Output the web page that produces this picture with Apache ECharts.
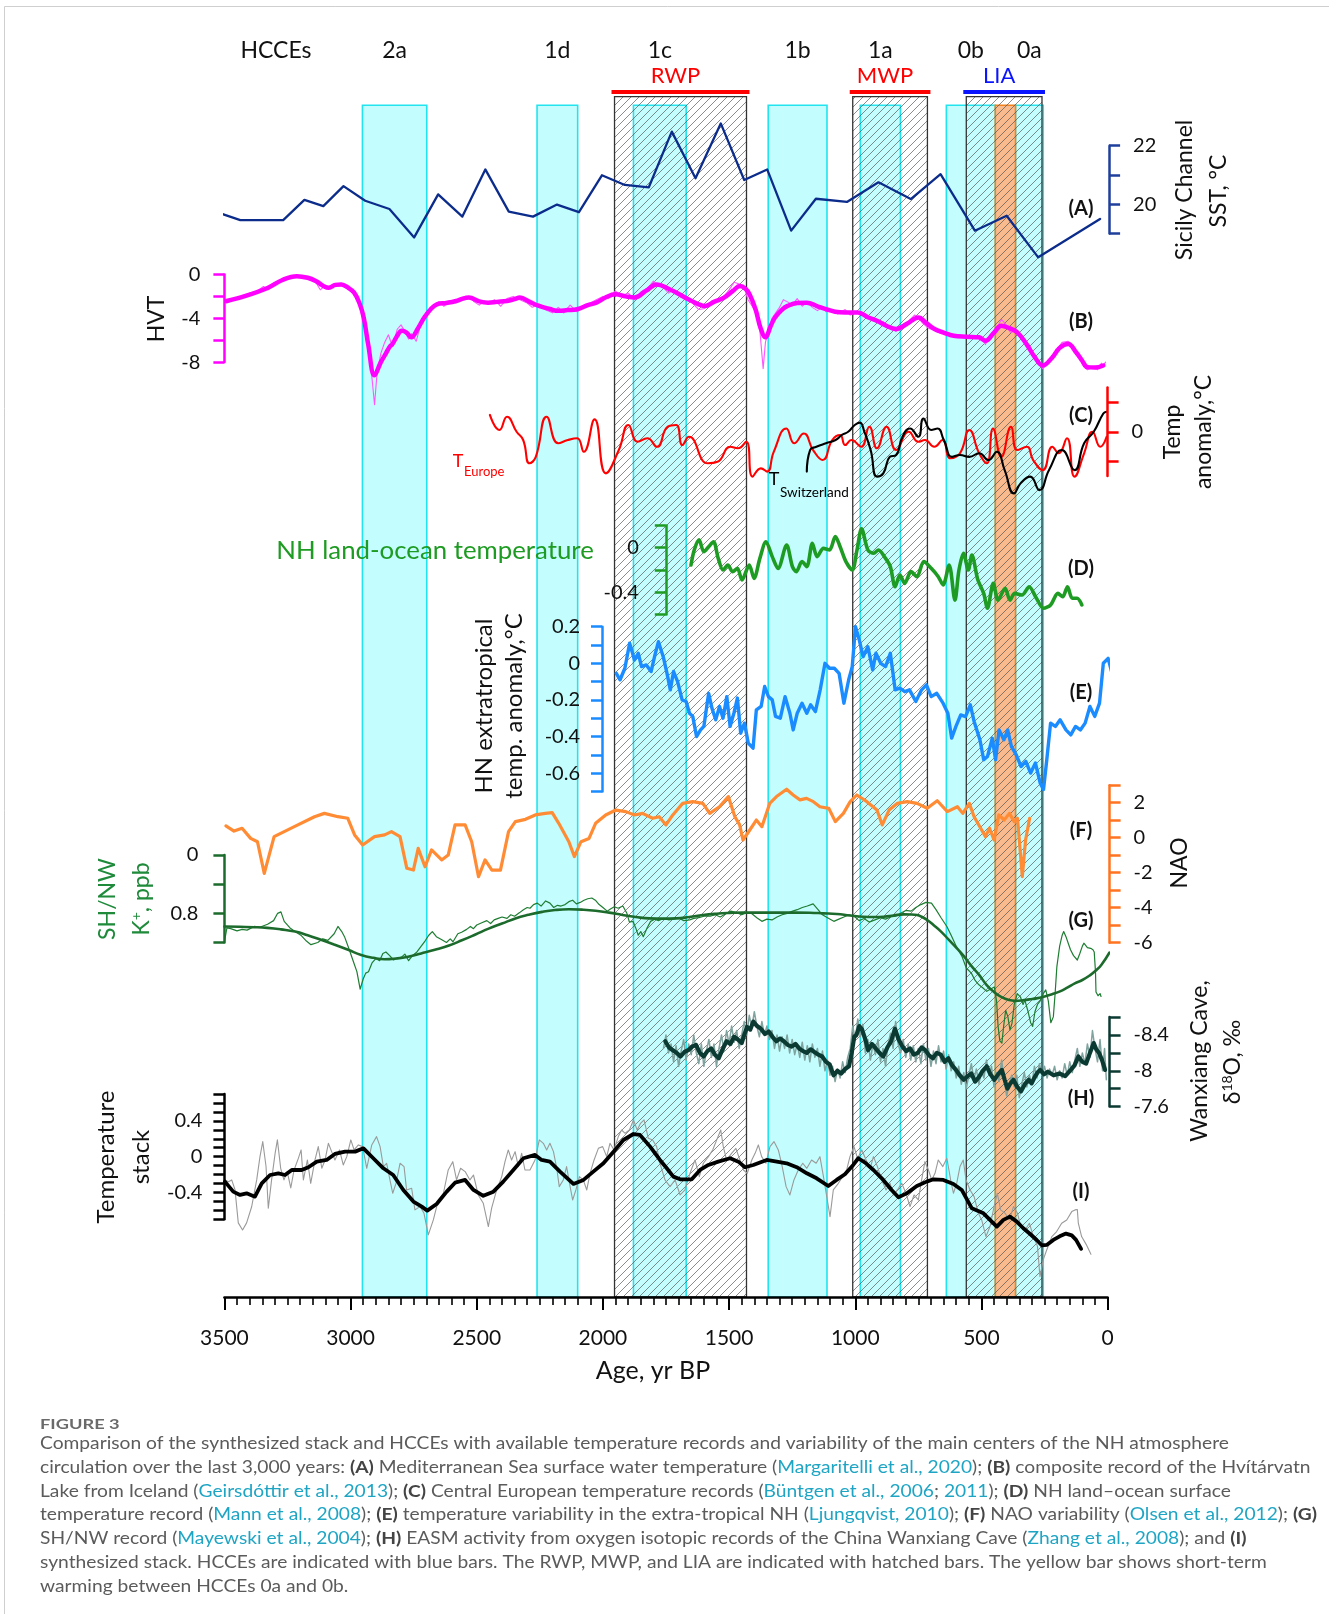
<!DOCTYPE html>
<html>
<head>
<meta charset="utf-8">
<script src="https://cdn.jsdelivr.net/npm/echarts@6/dist/echarts.min.js"></script>
<style>
html,body{margin:0;padding:0;background:#fff;}
#chart{width:1329px;height:1614px;}
</style>
</head>
<body>
<div id="chart"></div>
<script>
// ---------- shared time axis ----------
const ageTicks = [3500, 3000, 2500, 2000, 1500, 1000, 500, 0];

// ---------- event bands (yr BP) ----------
const hcceNames = ['2a', '1d', '1c', '1b', '1a', '0b', '0a'];
const hcceStart = [2953, 2261, 1879, 1345, 980, 639, 365];
const hcceEnd   = [2698, 2100, 1670, 1112, 821, 445, 255];
const periodNames = ['RWP', 'MWP', 'LIA'];
const periodStart = [1954, 1010, 560];
const periodEnd   = [1431, 714, 260];
const warmStart = [445];
const warmEnd   = [365];

// ---------- (A) Sicily Channel SST, degC ----------
const sstA = [[3520,19.7],[3437,19.46],[3267,19.46],[3183,20.15],[3108,19.94],[3028,20.62],[2942,20.12],[2846,19.84],[2748,18.87],[2653,20.34],[2557,19.58],[2466,21.19],[2373,19.75],[2277,19.58],[2182,19.99],[2095,19.73],[2004,20.99],[1913,20.66],[1818,20.58],[1727,22.48],[1633,20.89],[1533,22.76],[1440,20.83],[1349,21.19],[1254,19.10],[1156,20.19],[1033,20.08],[908,20.75],[780,20.18],[662,21.03],[526,19.10],[400,19.61],[275,18.19],[30,19.50]];

// ---------- (B) Hvitarvatn HVT ----------
const hvtSmooth = [[3491,-2.42],[3416,-1.96],[3327,-1.21],[3270,-0.5],[3213,-0.15],[3170,-0.3],[3138,-0.60],[3100,-1.15],[3087,-1.21],[3060,-0.95],[3037,-0.91],[3010,-1.2],[2986,-1.66],[2965,-2.6],[2948,-3.93],[2930,-6.4],[2905,-9.2],[2880,-8.0],[2860,-7.2],[2845,-6.6],[2834,-6.34],[2815,-5.6],[2797,-5.14],[2778,-5.3],[2759,-5.74],[2735,-5.0],[2708,-3.93],[2680,-3.1],[2658,-2.72],[2620,-2.6],[2582,-2.42],[2555,-2.2],[2531,-2.11],[2490,-2.45],[2455,-2.57],[2420,-2.5],[2380,-2.42],[2350,-2.25],[2329,-2.11],[2290,-2.5],[2253,-2.87],[2210,-3.15],[2177,-3.32],[2140,-3.25],[2102,-3.17],[2060,-2.8],[2026,-2.57],[1990,-2.1],[1950,-1.81],[1910,-2.0],[1874,-2.11],[1830,-1.5],[1786,-0.91],[1740,-1.3],[1697,-1.81],[1650,-2.4],[1596,-2.87],[1560,-2.5],[1520,-2.11],[1485,-1.5],[1457,-1.06],[1435,-1.3],[1419,-1.81],[1395,-3.2],[1375,-4.9],[1356,-5.74],[1335,-4.7],[1318,-3.93],[1290,-3.2],[1268,-2.87],[1230,-2.6],[1192,-2.57],[1150,-2.9],[1116,-3.17],[1080,-3.4],[1040,-3.47],[990,-3.47],[950,-3.9],[914,-4.23],[875,-4.7],[838,-4.98],[795,-4.5],[749,-3.93],[720,-4.4],[686,-4.98],[650,-5.3],[610,-5.59],[560,-5.68],[509,-5.74],[484,-6.04],[450,-5.3],[421,-4.68],[390,-4.9],[358,-5.29],[320,-6.4],[290,-7.5],[257,-8.31],[220,-7.6],[190,-6.7],[156,-6.34],[125,-7.1],[100,-7.9],[80,-8.46],[50,-8.5],[17,-8.31]];
const hvtRaw = [[3491,-2.6],[3460,-2.2],[3430,-2.0],[3400,-1.7],[3370,-1.5],[3345,-1.1],[3327,-1.4],[3300,-0.9],[3270,-0.6],[3240,-0.3],[3213,-0.1],[3190,-0.2],[3165,-0.4],[3138,-0.7],[3120,-1.4],[3100,-1.0],[3080,-1.3],[3060,-0.9],[3037,-0.8],[3010,-1.2],[2986,-1.8],[2965,-2.8],[2948,-4.4],[2930,-6.8],[2915,-9.5],[2905,-11.9],[2895,-9.0],[2880,-7.2],[2865,-6.2],[2850,-5.5],[2834,-6.6],[2815,-5.0],[2800,-4.6],[2785,-5.2],[2770,-5.9],[2759,-5.4],[2740,-6.1],[2725,-4.8],[2708,-3.8],[2690,-3.3],[2670,-2.8],[2650,-2.5],[2630,-2.9],[2610,-2.4],[2582,-2.6],[2560,-2.1],[2531,-2.0],[2510,-2.5],[2490,-2.8],[2470,-2.4],[2455,-2.7],[2430,-2.3],[2405,-2.9],[2380,-2.2],[2355,-2.0],[2329,-2.3],[2300,-2.6],[2280,-3.0],[2253,-2.7],[2230,-3.2],[2200,-3.5],[2177,-3.0],[2155,-3.5],[2130,-2.8],[2102,-3.4],[2080,-3.0],[2050,-2.6],[2026,-2.3],[2000,-2.0],[1980,-2.2],[1950,-1.5],[1930,-2.0],[1900,-1.7],[1874,-2.3],[1850,-1.6],[1820,-1.2],[1800,-0.6],[1786,-0.9],[1760,-1.2],[1740,-1.7],[1717,-1.4],[1697,-2.0],[1675,-2.2],[1650,-2.5],[1620,-3.2],[1596,-3.1],[1575,-2.6],[1550,-2.4],[1520,-2.0],[1500,-1.4],[1480,-0.7],[1457,-0.9],[1440,-1.2],[1425,-2.3],[1400,-3.2],[1380,-4.6],[1365,-8.6],[1356,-6.2],[1340,-4.8],[1330,-4.0],[1318,-3.6],[1300,-3.0],[1285,-2.3],[1268,-2.5],[1250,-2.8],[1230,-2.2],[1210,-2.9],[1192,-2.5],[1170,-3.0],[1150,-3.3],[1130,-3.0],[1116,-3.4],[1090,-3.2],[1070,-3.6],[1040,-3.2],[1020,-3.7],[990,-3.4],[960,-3.9],[940,-4.0],[914,-4.4],[890,-4.3],[870,-4.8],[838,-5.2],[815,-4.6],[790,-4.3],[765,-3.7],[749,-4.0],[730,-4.5],[710,-4.9],[686,-5.1],[660,-5.4],[635,-5.3],[610,-5.7],[585,-5.5],[560,-5.8],[535,-5.6],[509,-5.9],[495,-6.0],[484,-6.4],[465,-5.5],[440,-4.9],[421,-4.1],[405,-4.5],[385,-5.3],[358,-5.1],[340,-5.7],[320,-6.3],[300,-7.0],[280,-7.8],[257,-8.6],[240,-8.2],[220,-7.4],[200,-6.8],[180,-6.2],[156,-6.1],[135,-6.6],[115,-7.5],[95,-8.4],[80,-8.7],[60,-8.5],[40,-8.7],[25,-8.1],[17,-8.3],[8,-8.0]];

// ---------- (C) Central European temperature anomaly ----------
const tEurope = [[2448,0.57],[2410,0.06],[2380,0.51],[2342,0.0],[2316,-0.28],[2291,-1.07],[2266,-0.85],[2223,0.51],[2177,-0.39],[2139,-0.28],[2102,-0.22],[2076,-0.68],[2033,0.42],[1988,-1.41],[1937,-0.62],[1899,0.23],[1862,-0.34],[1824,-0.22],[1786,-0.51],[1743,0.17],[1710,0.23],[1685,-0.45],[1659,-0.17],[1584,-1.07],[1546,-1.02],[1495,-0.51],[1465,-0.56],[1432,-0.34],[1407,-1.52],[1374,-1.24],[1349,-1.35],[1323,-0.68],[1273,0.11],[1242,-0.39],[1204,-0.06],[1167,-0.62],[1129,-0.96],[1091,-0.28],[1060,-0.11],[1040,-0.45],[1015,-0.28],[977,-0.51],[944,0.17],[914,-0.56],[876,0.17],[838,-0.62],[788,0.0],[750,-0.34],[724,-0.28],[687,-0.51],[654,-0.28],[623,-0.90],[585,-0.73],[548,0.06],[509,-0.73],[479,-1.07],[454,0.11],[421,-0.85],[383,0.17],[358,-0.62],[320,-0.51],[295,-0.96],[257,-1.30],[219,-0.51],[194,-0.73],[161,-0.22],[131,-1.52],[93,-0.73],[60,0.0],[29,-0.51],[4,-0.17]];
const tSwitzerland = [[1192,-1.35],[1179,-0.62],[1154,-0.51],[1116,-0.39],[1078,-0.28],[1053,-0.11],[1028,0.0],[1002,0.23],[982,0.31],[964,0.0],[939,-0.62],[914,-1.52],[889,-1.41],[863,-0.85],[838,-0.79],[813,-0.17],[783,0.11],[750,-0.17],[730,0.45],[699,0.06],[674,0.11],[649,-0.28],[616,-0.85],[585,-0.79],[548,-0.85],[509,-0.73],[472,-0.96],[439,-0.68],[408,-1.30],[371,-2.09],[345,-1.75],[307,-1.52],[270,-1.98],[232,-1.30],[181,-0.62],[131,-1.30],[93,-0.39],[55,0.0],[17,0.62],[4,0.68]];

// ---------- (D) NH land-ocean temperature ----------
const nhLandOcean = [[1651,-0.155],[1638,-0.02],[1619,0.07],[1600,-0.036],[1581,0.009],[1562,0.054],[1543,-0.096],[1524,-0.2],[1505,-0.155],[1486,-0.215],[1467,-0.185],[1449,-0.29],[1420,-0.155],[1401,-0.275],[1378,-0.096],[1354,0.054],[1329,-0.08],[1306,-0.185],[1272,0.024],[1249,-0.17],[1234,-0.215],[1211,-0.125],[1192,-0.17],[1170,0.039],[1151,-0.08],[1126,-0.006],[1102,-0.02],[1079,0.1],[1060,0.009],[1037,-0.125],[1012,-0.2],[993,-0.02],[975,0.17],[950,-0.02],[927,-0.05],[908,-0.02],[880,-0.096],[861,-0.17],[842,-0.35],[823,-0.245],[804,-0.32],[779,-0.215],[756,-0.26],[728,-0.125],[699,-0.185],[671,-0.26],[652,-0.334],[628,-0.155],[605,-0.47],[589,-0.2],[571,-0.05],[552,-0.2],[538,-0.066],[514,-0.29],[491,-0.41],[476,-0.543],[453,-0.32],[434,-0.47],[406,-0.364],[387,-0.47],[368,-0.41],[339,-0.424],[311,-0.35],[282,-0.454],[254,-0.543],[226,-0.513],[197,-0.41],[178,-0.44],[159,-0.35],[140,-0.454],[121,-0.454],[102,-0.513]];

// ---------- (E) extratropical NH temperature anomaly ----------
const nhExtratropical = [[1947,-0.055],[1932,-0.09],[1913,-0.027],[1894,0.11],[1875,0.018],[1860,0.055],[1847,-0.018],[1828,-0.009],[1809,-0.045],[1794,0.045],[1780,0.118],[1761,0.036],[1746,-0.055],[1733,-0.145],[1720,-0.045],[1704,-0.1],[1686,-0.2],[1670,-0.209],[1657,-0.273],[1644,-0.29],[1629,-0.4],[1613,-0.364],[1600,-0.345],[1581,-0.164],[1568,-0.245],[1553,-0.309],[1538,-0.236],[1524,-0.3],[1509,-0.182],[1496,-0.345],[1481,-0.273],[1467,-0.19],[1454,-0.382],[1439,-0.327],[1424,-0.436],[1405,-0.464],[1392,-0.255],[1373,-0.236],[1359,-0.127],[1344,-0.182],[1329,-0.2],[1316,-0.29],[1297,-0.3],[1278,-0.182],[1259,-0.273],[1246,-0.364],[1230,-0.273],[1211,-0.218],[1192,-0.273],[1177,-0.227],[1158,-0.264],[1139,-0.145],[1120,0.0],[1102,-0.027],[1083,-0.027],[1064,-0.055],[1045,-0.218],[1026,-0.09],[1012,-0.018],[999,0.2],[984,0.127],[969,0.036],[950,0.09],[931,-0.036],[918,0.055],[899,0.0],[880,-0.018],[861,0.055],[842,-0.145],[823,-0.136],[804,-0.155],[785,-0.145],[760,-0.209],[737,-0.145],[718,-0.118],[699,-0.182],[677,-0.164],[652,-0.218],[633,-0.273],[618,-0.409],[601,-0.345],[582,-0.282],[563,-0.291],[544,-0.227],[529,-0.318],[506,-0.418],[491,-0.527],[476,-0.509],[457,-0.409],[444,-0.527],[430,-0.364],[411,-0.418],[396,-0.364],[381,-0.455],[362,-0.5],[343,-0.564],[324,-0.536],[305,-0.6],[286,-0.545],[267,-0.655],[254,-0.69],[241,-0.527],[226,-0.327],[207,-0.345],[188,-0.309],[165,-0.364],[146,-0.391],[127,-0.345],[108,-0.364],[89,-0.327],[70,-0.236],[51,-0.29],[32,-0.218],[17,0.0],[-2,0.027],[-21,-0.073],[-36,0.082],[-43,0.055]];

// ---------- (F) NAO index ----------
const naoIndex = [[3494,0.67],[3462,0.38],[3430,0.54],[3396,-0.04],[3369,-0.23],[3342,-2.04],[3303,0.06],[3223,0.63],[3143,1.2],[3104,1.39],[3050,1.2],[3011,1.11],[2984,0.16],[2952,-0.42],[2905,0.06],[2865,0.16],[2838,0.35],[2804,0.06],[2777,-1.75],[2751,-1.85],[2732,-0.61],[2705,-1.66],[2679,-0.7],[2639,-1.27],[2613,-0.99],[2586,0.73],[2546,0.73],[2520,-0.23],[2493,-2.23],[2467,-1.27],[2440,-1.85],[2406,-1.85],[2374,0.35],[2347,0.92],[2307,1.05],[2268,1.3],[2228,1.39],[2201,1.43],[2175,0.82],[2135,-0.23],[2113,-1.08],[2087,-0.23],[2055,-0.04],[2029,0.82],[1989,1.3],[1949,1.58],[1909,1.49],[1875,1.3],[1843,1.39],[1803,1.11],[1777,1.2],[1750,0.73],[1723,1.3],[1684,1.96],[1644,2.06],[1604,1.96],[1577,1.39],[1538,1.77],[1503,2.35],[1477,1.2],[1458,0.73],[1445,-0.13],[1418,0.44],[1392,1.01],[1370,0.63],[1339,1.96],[1312,2.35],[1272,2.77],[1246,2.44],[1219,2.16],[1193,2.25],[1166,2.06],[1140,1.77],[1105,1.68],[1079,0.92],[1047,1.39],[1020,2.06],[994,2.44],[954,2.06],[914,1.58],[893,0.73],[866,1.58],[834,1.96],[794,2.06],[755,1.96],[715,1.68],[675,2.11],[635,1.49],[595,1.77],[574,1.39],[548,1.96],[529,1.2],[503,0.54],[484,0.06],[468,0.54],[450,-0.13],[431,1.3],[410,1.01],[389,1.39],[370,0.92],[357,1.11],[338,-2.23],[325,-0.13],[309,1.11]];

// ---------- (G) SH/NW K+, ppb ----------
const shnwRaw = [[3500,1.19],[3490,1.0],[3475,1.01],[3450,1.04],[3430,1.02],[3410,1.03],[3382,0.98],[3360,0.99],[3329,0.95],[3305,0.90],[3289,0.80],[3276,0.78],[3263,0.91],[3240,1.0],[3220,1.05],[3197,1.10],[3175,1.18],[3157,1.23],[3130,1.20],[3110,1.15],[3090,1.17],[3065,1.08],[3050,0.98],[3035,1.05],[3024,1.12],[3005,1.30],[2990,1.45],[2975,1.60],[2962,1.84],[2950,1.70],[2940,1.62],[2929,1.60],[2915,1.48],[2900,1.42],[2885,1.45],[2872,1.35],[2860,1.33],[2845,1.38],[2830,1.44],[2815,1.42],[2798,1.40],[2785,1.36],[2770,1.45],[2755,1.38],[2737,1.33],[2720,1.25],[2705,1.18],[2690,1.10],[2676,1.05],[2660,1.12],[2640,1.16],[2620,1.20],[2605,1.15],[2594,1.19],[2575,1.08],[2560,1.06],[2540,1.02],[2525,0.98],[2513,1.01],[2500,0.96],[2480,0.93],[2460,0.90],[2445,0.94],[2431,0.89],[2415,0.87],[2400,0.85],[2380,0.87],[2365,0.82],[2350,0.84],[2330,0.79],[2315,0.75],[2300,0.72],[2289,0.73],[2275,0.68],[2260,0.66],[2245,0.70],[2227,0.63],[2210,0.66],[2195,0.72],[2180,0.69],[2166,0.70],[2150,0.68],[2135,0.64],[2120,0.62],[2105,0.67],[2090,0.65],[2075,0.62],[2060,0.60],[2044,0.59],[2030,0.62],[2015,0.68],[2000,0.72],[1983,0.77],[1970,0.74],[1955,0.71],[1940,0.73],[1921,0.70],[1905,0.80],[1895,0.92],[1881,0.91],[1870,1.0],[1860,1.10],[1850,1.05],[1840,1.12],[1825,1.00],[1811,0.91],[1795,0.88],[1780,0.90],[1760,0.87],[1738,0.89],[1720,0.88],[1700,0.86],[1680,0.90],[1656,0.89],[1640,0.87],[1620,0.86],[1600,0.84],[1575,0.84],[1555,0.82],[1535,0.85],[1515,0.81],[1493,0.77],[1470,0.79],[1450,0.82],[1430,0.79],[1412,0.80],[1390,0.86],[1370,0.91],[1350,0.88],[1330,0.89],[1310,0.85],[1290,0.82],[1270,0.80],[1248,0.77],[1230,0.75],[1210,0.72],[1190,0.70],[1167,0.67],[1150,0.74],[1130,0.82],[1110,0.86],[1085,0.91],[1065,0.88],[1045,0.85],[1025,0.82],[1004,0.84],[985,0.90],[965,0.87],[945,0.92],[922,0.89],[900,0.86],[880,0.88],[860,0.85],[840,0.84],[820,0.80],[800,0.76],[779,0.77],[760,0.72],[740,0.68],[720,0.65],[698,0.66],[680,0.75],[660,0.86],[637,0.98],[620,1.10],[600,1.25],[576,1.40],[560,1.55],[540,1.62],[525,1.72],[510,1.78],[495,1.82],[479,1.87],[465,1.84],[449,1.81],[440,2.0],[434,2.35],[427,2.55],[419,2.58],[412,2.35],[404,2.13],[395,2.22],[387,2.40],[379,2.31],[370,2.05],[358,1.90],[345,1.95],[335,2.05],[328,1.99],[315,2.15],[305,2.30],[297,2.35],[288,2.15],[278,2.05],[267,2.0],[255,1.90],[245,1.85],[235,2.0],[225,2.3],[215,2.22],[208,1.90],[201,1.53],[190,1.25],[180,1.10],[174,1.05],[165,1.12],[155,1.22],[147,1.30],[135,1.38],[120,1.44],[110,1.35],[100,1.25],[94,1.21],[80,1.27],[67,1.28],[58,1.30],[53,1.33],[48,1.60],[46,1.88],[38,1.93],[30,1.90],[26,1.94]];
const shnwSmooth = [[3500,0.98],[3440,0.985],[3382,0.99],[3330,1.0],[3276,1.02],[3220,1.05],[3170,1.10],[3120,1.16],[3064,1.23],[3010,1.30],[2958,1.37],[2910,1.41],[2865,1.43],[2820,1.42],[2772,1.395],[2720,1.35],[2666,1.30],[2610,1.24],[2559,1.17],[2505,1.09],[2453,1.01],[2400,0.94],[2347,0.87],[2295,0.82],[2241,0.78],[2190,0.755],[2135,0.745],[2080,0.75],[2029,0.764],[1975,0.79],[1922,0.823],[1870,0.85],[1816,0.869],[1760,0.872],[1710,0.869],[1657,0.85],[1604,0.823],[1550,0.805],[1498,0.795],[1445,0.79],[1392,0.79],[1340,0.79],[1286,0.79],[1233,0.79],[1180,0.792],[1127,0.80],[1073,0.81],[1020,0.83],[967,0.846],[927,0.85],[887,0.846],[848,0.83],[808,0.814],[780,0.815],[755,0.823],[735,0.85],[715,0.892],[690,0.96],[660,1.05],[630,1.16],[600,1.27],[569,1.39],[540,1.52],[510,1.64],[480,1.78],[450,1.88],[420,1.95],[390,1.99],[367,2.0],[340,1.995],[310,1.98],[282,1.966],[250,1.94],[220,1.91],[191,1.874],[160,1.82],[130,1.76],[100,1.714],[70,1.65],[45,1.58],[25,1.509],[-7,1.34]];

// ---------- (H) Wanxiang Cave d18O, permil ----------
const wanxiangRaw = [[1760,-8.25],[1750,-8.40],[1740,-8.20],[1730,-8.30],[1720,-8.10],[1710,-8.28],[1700,-8.05],[1690,-8.22],[1680,-8.35],[1670,-8.12],[1660,-8.30],[1650,-8.18],[1640,-8.40],[1630,-8.20],[1620,-8.08],[1610,-8.30],[1600,-8.05],[1590,-8.22],[1580,-8.35],[1570,-8.15],[1560,-8.30],[1550,-8.05],[1540,-8.25],[1530,-8.40],[1520,-8.22],[1510,-8.45],[1500,-8.30],[1490,-8.50],[1480,-8.32],[1470,-8.45],[1460,-8.25],[1450,-8.40],[1440,-8.55],[1430,-8.40],[1420,-8.62],[1410,-8.48],[1400,-8.66],[1390,-8.50],[1380,-8.38],[1370,-8.55],[1360,-8.40],[1350,-8.50],[1340,-8.35],[1330,-8.45],[1320,-8.25],[1310,-8.40],[1300,-8.22],[1290,-8.38],[1280,-8.25],[1270,-8.40],[1260,-8.20],[1250,-8.35],[1240,-8.18],[1230,-8.30],[1220,-8.15],[1210,-8.32],[1200,-8.12],[1190,-8.28],[1180,-8.10],[1170,-8.30],[1160,-8.15],[1150,-8.25],[1140,-8.05],[1130,-8.22],[1120,-8.00],[1110,-8.12],[1100,-7.95],[1090,-8.05],[1080,-7.88],[1070,-8.02],[1060,-7.92],[1050,-8.10],[1040,-7.98],[1030,-8.15],[1020,-8.25],[1010,-8.50],[1000,-8.35],[990,-8.58],[980,-8.38],[970,-8.52],[960,-8.20],[950,-8.35],[940,-8.12],[930,-8.30],[920,-8.18],[910,-8.35],[900,-8.10],[890,-8.25],[880,-8.05],[870,-8.30],[860,-8.42],[850,-8.25],[840,-8.55],[830,-8.30],[820,-8.20],[810,-8.35],[800,-8.15],[790,-8.30],[780,-8.12],[770,-8.28],[760,-8.10],[750,-8.25],[740,-8.08],[730,-8.30],[720,-8.12],[710,-8.25],[700,-8.05],[690,-8.22],[680,-8.08],[670,-8.28],[660,-8.10],[650,-8.22],[640,-8.02],[630,-8.18],[620,-8.00],[610,-8.10],[600,-7.92],[590,-8.05],[580,-7.85],[570,-7.98],[560,-7.80],[550,-7.95],[540,-8.08],[530,-7.90],[520,-8.02],[510,-7.85],[500,-8.00],[490,-7.92],[480,-8.12],[470,-7.95],[460,-8.05],[450,-7.82],[440,-7.98],[430,-7.88],[420,-8.12],[410,-7.90],[400,-7.72],[390,-7.85],[380,-7.95],[370,-7.82],[360,-7.95],[350,-7.70],[340,-7.85],[330,-7.98],[320,-7.82],[310,-7.95],[300,-7.85],[290,-8.05],[280,-7.92],[270,-8.08],[260,-7.95],[250,-8.05],[240,-7.92],[230,-8.02],[220,-7.95],[210,-8.05],[200,-7.90],[190,-8.00],[180,-7.92],[170,-8.08],[160,-7.95],[150,-8.10],[140,-7.98],[130,-8.12],[120,-8.25],[110,-8.05],[100,-8.20],[90,-8.08],[80,-8.30],[70,-8.15],[60,-8.45],[50,-8.25],[40,-8.10],[30,-8.35],[20,-8.00],[12,-8.25],[5,-7.90]];
const wanxiangSmooth = [[1753,-8.33],[1738,-8.26],[1723,-8.23],[1708,-8.2],[1692,-8.16],[1677,-8.21],[1662,-8.23],[1646,-8.27],[1631,-8.29],[1616,-8.2],[1601,-8.16],[1586,-8.22],[1571,-8.25],[1556,-8.18],[1541,-8.14],[1526,-8.24],[1510,-8.33],[1495,-8.3],[1480,-8.38],[1465,-8.35],[1450,-8.31],[1440,-8.4],[1429,-8.49],[1416,-8.46],[1404,-8.55],[1389,-8.5],[1374,-8.47],[1358,-8.41],[1343,-8.44],[1328,-8.38],[1313,-8.33],[1298,-8.36],[1283,-8.33],[1268,-8.29],[1252,-8.27],[1237,-8.3],[1222,-8.25],[1207,-8.22],[1192,-8.20],[1177,-8.24],[1162,-8.21],[1146,-8.18],[1131,-8.16],[1116,-8.1],[1101,-8.07],[1093,-8.0],[1086,-7.95],[1071,-8.0],[1056,-7.97],[1040,-8.02],[1025,-8.05],[1014,-8.2],[1004,-8.38],[995,-8.40],[984,-8.5],[973,-8.46],[960,-8.35],[949,-8.23],[934,-8.3],[919,-8.25],[904,-8.2],[889,-8.16],[873,-8.26],[858,-8.33],[843,-8.47],[828,-8.35],[813,-8.27],[798,-8.22],[783,-8.25],[768,-8.18],[752,-8.20],[737,-8.26],[722,-8.23],[707,-8.17],[692,-8.14],[677,-8.2],[661,-8.18],[646,-8.1],[631,-8.14],[616,-8.06],[601,-8.01],[586,-7.95],[570,-7.90],[555,-7.94],[540,-7.97],[525,-7.88],[510,-7.93],[495,-8.0],[479,-8.05],[464,-7.96],[449,-7.90],[434,-7.96],[419,-8.01],[408,-7.9],[397,-7.80],[385,-7.86],[373,-7.90],[358,-7.82],[343,-7.77],[328,-7.85],[313,-7.90],[301,-7.86],[289,-7.93],[278,-7.98],[267,-8.01],[252,-7.96],[237,-7.99],[214,-7.95],[191,-7.97],[168,-7.94],[146,-8.01],[131,-8.06],[116,-8.16],[100,-8.1],[85,-8.08],[70,-8.2],[55,-8.31],[45,-8.24],[34,-8.20],[22,-8.12],[10,-8.01]];

// ---------- (I) synthesized temperature stack ----------
const stackRaw = [[3498,-0.26],[3484,-0.28],[3471,-0.26],[3458,-0.37],[3445,-0.74],[3428,-0.82],[3412,-0.74],[3392,-0.56],[3372,-0.26],[3359,0.0],[3348,0.168],[3335,-0.11],[3326,-0.576],[3313,-0.26],[3299,0.037],[3290,0.187],[3277,-0.13],[3264,-0.26],[3251,-0.167],[3237,-0.35],[3224,-0.149],[3207,-0.019],[3196,0.075],[3187,-0.26],[3171,-0.037],[3158,-0.298],[3141,-0.037],[3128,0.112],[3114,-0.13],[3101,-0.037],[3088,0.149],[3075,0.056],[3062,-0.037],[3044,0.075],[3029,-0.093],[3015,0.0],[2999,0.187],[2986,0.075],[2969,0.131],[2952,0.112],[2936,-0.13],[2916,0.131],[2897,0.224],[2883,0.112],[2870,-0.111],[2857,-0.074],[2844,-0.26],[2833,-0.409],[2820,-0.298],[2804,-0.074],[2788,-0.111],[2778,-0.372],[2758,-0.353],[2745,-0.595],[2725,-0.558],[2709,-0.633],[2692,-0.874],[2672,-0.707],[2652,-0.484],[2632,-0.409],[2613,-0.149],[2595,-0.056],[2580,-0.26],[2564,-0.13],[2546,-0.167],[2527,-0.26],[2513,-0.205],[2494,-0.428],[2474,-0.521],[2454,-0.781],[2441,-0.576],[2421,-0.372],[2401,-0.223],[2388,-0.056],[2375,0.075],[2362,-0.037],[2348,0.056],[2335,-0.111],[2322,0.037],[2309,-0.149],[2289,-0.149],[2269,-0.037],[2252,0.187],[2236,0.149],[2223,0.075],[2210,0.149],[2196,0.056],[2183,-0.13],[2173,-0.335],[2157,-0.26],[2144,-0.111],[2130,-0.335],[2120,-0.484],[2107,-0.372],[2093,-0.223],[2078,-0.26],[2064,-0.372],[2051,-0.186],[2035,-0.037],[2018,0.093],[2001,0.112],[1985,0.0],[1972,0.149],[1956,0.075],[1939,0.224],[1926,0.298],[1912,0.261],[1895,0.298],[1879,0.41],[1864,0.298],[1851,0.372],[1837,0.41],[1820,0.205],[1803,0.187],[1787,0.112],[1774,-0.074],[1754,-0.26],[1734,-0.335],[1714,-0.26],[1694,-0.428],[1675,-0.372],[1655,-0.186],[1635,-0.037],[1618,-0.223],[1602,-0.074],[1582,0.0],[1565,0.075],[1549,0.187],[1533,0.298],[1523,0.112],[1510,-0.037],[1490,0.037],[1473,0.093],[1457,-0.037],[1443,-0.149],[1428,-0.186],[1410,-0.037],[1397,0.037],[1384,0.131],[1371,0.0],[1354,-0.074],[1338,0.112],[1322,0.168],[1305,0.075],[1292,-0.074],[1274,-0.335],[1259,-0.428],[1243,-0.26],[1226,-0.149],[1208,-0.074],[1192,-0.13],[1173,-0.037],[1155,-0.074],[1140,0.0],[1126,-0.223],[1113,-0.447],[1100,-0.67],[1087,-0.372],[1067,-0.298],[1050,-0.223],[1034,-0.149],[1021,0.0],[1005,0.112],[991,-0.018],[974,0.075],[957,-0.037],[941,-0.13],[928,0.0],[912,-0.111],[895,-0.26],[878,-0.372],[862,-0.298],[849,-0.428],[833,-0.372],[816,-0.298],[799,-0.409],[783,-0.558],[767,-0.428],[750,-0.484],[737,-0.26],[724,-0.056],[710,-0.149],[697,-0.26],[684,-0.186],[671,-0.037],[653,-0.111],[637,-0.018],[622,-0.26],[611,-0.409],[598,-0.298],[585,-0.111],[572,-0.037],[561,-0.26],[545,-0.372],[529,-0.447],[512,-0.633],[499,-0.707],[482,-0.893],[466,-0.781],[450,-0.558],[437,-0.409],[424,-0.595],[406,-0.633],[389,-0.707],[373,-0.558],[357,-0.633],[344,-0.781],[327,-0.819],[310,-0.744],[294,-0.893],[278,-1.0],[268,-1.34],[255,-1.15],[241,-1.04],[221,-0.893],[202,-0.837],[182,-0.744],[162,-0.707],[142,-0.614],[129,-0.595],[120,-0.59],[116,-0.744],[103,-0.893],[85,-0.98],[66,-1.09]];
const stackSmooth = [[3498,-0.279],[3465,-0.391],[3438,-0.428],[3412,-0.41],[3379,-0.447],[3352,-0.298],[3319,-0.205],[3286,-0.186],[3260,-0.205],[3233,-0.149],[3194,-0.149],[3167,-0.118],[3134,-0.056],[3095,-0.037],[3062,0.03],[3022,0.056],[2982,0.056],[2949,0.093],[2910,-0.018],[2870,-0.13],[2831,-0.205],[2791,-0.372],[2751,-0.502],[2718,-0.558],[2696,-0.603],[2659,-0.529],[2619,-0.391],[2586,-0.291],[2546,-0.26],[2513,-0.372],[2474,-0.438],[2434,-0.391],[2395,-0.279],[2355,-0.149],[2315,-0.018],[2269,0.019],[2243,-0.037],[2210,-0.056],[2170,-0.167],[2117,-0.305],[2077,-0.26],[2038,-0.167],[1998,-0.074],[1958,0.056],[1919,0.186],[1879,0.253],[1853,0.242],[1813,0.112],[1774,-0.037],[1747,-0.13],[1721,-0.223],[1694,-0.253],[1648,-0.253],[1615,-0.149],[1582,-0.093],[1543,-0.056],[1496,-0.018],[1463,-0.056],[1437,-0.118],[1404,-0.093],[1351,-0.037],[1311,-0.056],[1272,-0.074],[1232,-0.118],[1192,-0.186],[1153,-0.242],[1107,-0.328],[1074,-0.26],[1041,-0.197],[1008,-0.093],[988,-0.018],[961,-0.067],[928,-0.149],[889,-0.26],[856,-0.372],[829,-0.454],[796,-0.41],[756,-0.328],[717,-0.279],[690,-0.253],[651,-0.26],[611,-0.305],[578,-0.372],[538,-0.577],[492,-0.633],[439,-0.781],[413,-0.707],[387,-0.67],[360,-0.726],[334,-0.8],[307,-0.864],[281,-0.931],[261,-0.99],[240,-0.985],[215,-0.93],[190,-0.89],[165,-0.86],[142,-0.88],[125,-0.93],[105,-1.03]];

// ---------- drawing ----------
const FONT = 'Lato, "Open Sans", "Noto Sans", sans-serif';
const chart = echarts.init(document.getElementById('chart'), null, { renderer: 'canvas' });

const PLOT_LEFT = 224.4, PLOT_WIDTH = 883.2;

// diagonal hatching used for the warm / cold period boxes
function makeHatch() {
  const s = 8, c = document.createElement('canvas');
  c.width = s; c.height = s;
  const g = c.getContext('2d');
  g.strokeStyle = 'rgba(70,70,70,0.62)';
  g.lineWidth = 1;
  g.beginPath();
  g.moveTo(-1, s + 1); g.lineTo(s + 1, -1);
  g.moveTo(-1, 1); g.lineTo(1, -1);
  g.moveTo(s - 1, s + 1); g.lineTo(s + 1, s - 1);
  g.stroke();
  return c;
}
const hatchFill = { image: makeHatch(), repeat: 'repeat' };
const periodColors = ['#ff0000', '#ff0000', '#0a14ff'];

function grid(top, height) {
  return { left: PLOT_LEFT, width: PLOT_WIDTH, top, height, containLabel: false, outerBoundsMode: 'none' };
}
function pick(list) {
  return v => list.some(t => Math.abs(t - v) < 1e-6) ? String(+(+v).toFixed(2)) : '';
}
function yAxis(gi, min, max, interval, color, pos, offset, labels, opts) {
  opts = opts || {};
  const ax = {
    type: 'value', gridIndex: gi, min, max, interval, position: pos, offset, z: 6,
    inverse: !!opts.inverse,
    axisLine: { show: true, onZero: false, lineStyle: { color, width: 2.5 } },
    axisTick: { show: true, length: 11, lineStyle: { color, width: 2.5 } },
    axisLabel: { show: true, margin: opts.margin || 24, color: '#111', fontSize: 20, fontFamily: FONT, formatter: pick(labels) },
    splitLine: { show: false }
  };
  if (opts.tickValues) {
    ax.axisTick.customValues = opts.tickValues;
    ax.axisLabel.customValues = labels;
  }
  return ax;
}
function hiddenX(gi) {
  return { type: 'value', gridIndex: gi, min: 0, max: 3500, inverse: true, show: false };
}
function line(gi, data, color, width, extra) {
  return Object.assign({
    type: 'line', xAxisIndex: gi, yAxisIndex: gi, data, showSymbol: false, symbol: 'none',
    clip: false, silent: true, animation: false, z: 5,
    lineStyle: { color, width, join: 'round', cap: 'round' }
  }, extra || {});
}

// panel grids (index 0 = event-band layer with the age axis)
const grids = [
  grid(96.7, 1297 - 96.7),   // bands + age axis
  grid(145.7, 87.9),         // A
  grid(274.5, 87.6),         // B
  grid(387.5, 88.5),         // C
  grid(525.4, 89.2),         // D
  grid(626.7, 164.7),        // E
  grid(785.2, 157.5),        // F
  grid(855.0, 87.5),         // G
  grid(1017.1, 89.5),        // H
  grid(1094.0, 125.3)        // I
];

const xAxes = [{
  type: 'value', gridIndex: 0, min: 0, max: 3500, interval: 500, inverse: true, position: 'bottom', z: 6,
  axisLine: { show: true, onZero: false, lineStyle: { color: '#000', width: 2.5 } },
  axisTick: { show: true, length: 13, lineStyle: { color: '#000', width: 2 } },
  minorTick: { show: true, splitNumber: 10, length: 8, lineStyle: { color: '#000', width: 1.6 } },
  axisLabel: { margin: 31, color: '#111', fontSize: 21, fontFamily: FONT, formatter: pick(ageTicks) },
  splitLine: { show: false }, minorSplitLine: { show: false }
}];
for (let i = 1; i < grids.length; i++) xAxes.push(hiddenX(i));

const yAxes = [
  { type: 'value', gridIndex: 0, min: 0, max: 1, show: false },
  yAxis(1, 19, 22, 1, '#1f3f9c', 'right', 1.5, [20, 22]),
  yAxis(2, -8, 0, 2, '#ff00ff', 'left', 0, [0, -4, -8]),
  yAxis(3, -1.5, 1.5, 0.5, '#ff0000', 'right', 0, [0], { tickValues: [-1, 0, 1] }),
  yAxis(4, -0.6, 0.2, 0.2, '#1e9b22', 'left', -441.4, [0, -0.4], { margin: 27 }),
  yAxis(5, -0.7, 0.2, 0.1, '#1a8cff', 'left', -377.6, [0.2, 0, -0.2, -0.4, -0.6], { margin: 22 }),
  yAxis(6, -6, 3, 1, '#ff7420', 'right', 2, [2, 0, -2, -4, -6]),
  yAxis(7, 0, 1.2, 0.4, '#1c6b2c', 'left', 0, [0, 0.8], { inverse: true, margin: 26 }),
  yAxis(8, -8.6, -7.6, 0.2, '#0b3a33', 'right', 2, [-8.4, -8, -7.6], { inverse: true }),
  yAxis(9, -0.7, 0.7, 0.1, '#000000', 'left', 0, [0.4, 0, -0.4], { margin: 22 })
];

function spanRect(api) {
  const a = api.coord([api.value(0), 1]);
  const b = api.coord([api.value(1), 0]);
  return { x0: Math.min(a[0], b[0]), x1: Math.max(a[0], b[0]), top: a[1], bottom: b[1] };
}

const series = [
  {
    type: 'custom', name: 'HCCE', xAxisIndex: 0, yAxisIndex: 0, clip: false, silent: true, z: 1,
    data: hcceStart.map((s, i) => [s, hcceEnd[i]]),
    encode: { x: [0, 1] },
    renderItem(params, api) {
      const r = spanRect(api);
      const top = r.top + 8.6;
      return {
        type: 'group', children: [
          { type: 'rect', shape: { x: r.x0, y: top, width: r.x1 - r.x0, height: r.bottom - top },
            style: { fill: '#c4fdfd', stroke: '#22e4ee', lineWidth: 1.6 } },
          { type: 'text', style: { text: hcceNames[params.dataIndex], x: (r.x0 + r.x1) / 2, y: 51,
            fill: '#111', fontSize: 23, fontFamily: FONT, align: 'center', verticalAlign: 'middle' } }
        ]
      };
    }
  },
  {
    type: 'custom', name: 'warming', xAxisIndex: 0, yAxisIndex: 0, clip: false, silent: true, z: 2,
    data: warmStart.map((s, i) => [s, warmEnd[i]]),
    encode: { x: [0, 1] },
    renderItem(params, api) {
      const r = spanRect(api);
      const top = r.top + 8.6;
      return { type: 'rect', shape: { x: r.x0, y: top, width: r.x1 - r.x0, height: r.bottom - top },
        style: { fill: '#f9bb8e', stroke: '#f2821e', lineWidth: 1.6 } };
    }
  },
  {
    type: 'custom', name: 'periods', xAxisIndex: 0, yAxisIndex: 0, clip: false, silent: true, z: 3,
    data: periodStart.map((s, i) => [s, periodEnd[i]]),
    encode: { x: [0, 1] },
    renderItem(params, api) {
      const r = spanRect(api);
      const col = periodColors[params.dataIndex];
      return {
        type: 'group', children: [
          { type: 'rect', shape: { x: r.x0, y: r.top, width: r.x1 - r.x0, height: r.bottom - r.top },
            style: { fill: hatchFill, stroke: '#333', lineWidth: 1.3 } },
          { type: 'line', shape: { x1: r.x0 - 3, y1: r.top - 4.7, x2: r.x1 + 3, y2: r.top - 4.7 },
            style: { stroke: col, lineWidth: 4.2 } },
          { type: 'text', style: { text: periodNames[params.dataIndex], x: (r.x0 + r.x1) / 2 - 5, y: 76,
            fill: col, fontSize: 22, fontFamily: FONT, align: 'center', verticalAlign: 'middle' } }
        ]
      };
    }
  },
  line(1, sstA, '#0c2c8c', 2.3),
  line(2, hvtRaw, '#ff55ff', 1.1),
  line(2, hvtSmooth, '#ff00ff', 4.5, { smooth: 0.4 }),
  line(3, tEurope, '#ff0000', 2.1, { smooth: 0.5 }),
  line(3, tSwitzerland, '#000000', 2.1, { smooth: 0.5 }),
  line(4, nhLandOcean, '#1e9b22', 3.6, { smooth: 0.3 }),
  line(5, nhExtratropical, '#1a8cff', 3.4),
  line(6, naoIndex, '#ff8c34', 3.2),
  line(7, shnwRaw, '#1e7d32', 1.2),
  line(7, shnwSmooth, '#1c6b2c', 2.6, { smooth: 0.5 }),
  line(8, wanxiangRaw, '#7fa39e', 1.5),
  line(8, wanxiangSmooth, '#0b3a33', 4.2),
  line(9, stackRaw, '#9a9a9a', 1.1),
  line(9, stackSmooth, '#000000', 3.8)
];

// ---------- text annotations ----------
function txt(x, y, text, o) {
  o = o || {};
  return {
    type: 'text', x, y, rotation: o.rot || 0, scaleX: o.sx || 1, z: 100, silent: true,
    style: {
      text, fill: o.color || '#111', fontSize: o.size || 23, fontFamily: FONT,
      fontWeight: o.weight || 'normal', align: o.align || 'center', verticalAlign: 'middle',
      rich: o.rich
    }
  };
}
const UP = Math.PI / 2;
const panelTags = [['(A)', 209], ['(B)', 322], ['(C)', 416], ['(D)', 569], ['(E)', 693], ['(F)', 831], ['(G)', 921], ['(H)', 1099], ['(I)', 1192]];

const capBase = { fontSize: 17.6, fontFamily: FONT, fill: '#5b5b5b' };
const capRich = {
  n: capBase,
  b: Object.assign({}, capBase, { fill: '#444', fontWeight: 'bold' }),
  l: Object.assign({}, capBase, { fill: '#1fa5c4' })
};
const captionLines = [
  [['n', 'Comparison of the synthesized stack and HCCEs with available temperature records and variability of the main centers of the NH atmosphere']],
  [['n', 'circulation over the last 3,000 years: '], ['b', '(A)'], ['n', ' Mediterranean Sea surface water temperature ('], ['l', 'Margaritelli et al., 2020'], ['n', '); '], ['b', '(B)'], ['n', ' composite record of the Hvítárvatn']],
  [['n', 'Lake from Iceland ('], ['l', 'Geirsdóttir et al., 2013'], ['n', '); '], ['b', '(C)'], ['n', ' Central European temperature records ('], ['l', 'Büntgen et al., 2006'], ['n', '; '], ['l', '2011'], ['n', '); '], ['b', '(D)'], ['n', ' NH land–ocean surface']],
  [['n', 'temperature record ('], ['l', 'Mann et al., 2008'], ['n', '); '], ['b', '(E)'], ['n', ' temperature variability in the extra-tropical NH ('], ['l', 'Ljungqvist, 2010'], ['n', '); '], ['b', '(F)'], ['n', ' NAO variability ('], ['l', 'Olsen et al., 2012'], ['n', '); '], ['b', '(G)']],
  [['n', 'SH/NW record ('], ['l', 'Mayewski et al., 2004'], ['n', '); '], ['b', '(H)'], ['n', ' EASM activity from oxygen isotopic records of the China Wanxiang Cave ('], ['l', 'Zhang et al., 2008'], ['n', '); and '], ['b', '(I)']],
  [['n', 'synthesized stack. HCCEs are indicated with blue bars. The RWP, MWP, and LIA are indicated with hatched bars. The yellow bar shows short-term']],
  [['n', 'warming between HCCEs 0a and 0b.']]
];
const captionY = [1443, 1467, 1491, 1514.5, 1538.5, 1562.5, 1586];

const graphic = [
  { type: 'rect', silent: true, z: 0, shape: { x: 4.5, y: 6.5, width: 1340, height: 1640 },
    style: { fill: 'none', stroke: '#cfcfcf', lineWidth: 1 } },
  txt(276, 51, 'HCCEs'),
  txt(653, 1371, 'Age, yr BP', { size: 25 }),
  txt(1185, 190, 'Sicily Channel', { rot: UP }),
  txt(1219, 191, 'SST, °C', { rot: UP }),
  txt(156.5, 319, 'HVT', { rot: UP }),
  txt(1173, 432, 'Temp', { rot: UP }),
  txt(1204, 432, 'anomaly,°C', { rot: UP }),
  txt(458, 461, 'T', { color: '#ff0000', size: 18 }),
  txt(464, 472, 'Europe', { color: '#ff0000', size: 13, align: 'left' }),
  txt(774, 479, 'T', { color: '#000', size: 18 }),
  txt(780, 493, 'Switzerland', { color: '#000', size: 13.5, align: 'left' }),
  txt(435, 551, 'NH land-ocean temperature', { color: '#1e9b22', size: 25.8 }),
  txt(484, 706, 'HN extratropical', { rot: UP, size: 24 }),
  txt(514, 706, 'temp. anomaly,°C', { rot: UP, size: 24 }),
  txt(1180, 863, 'NAO', { rot: UP }),
  txt(108, 899, 'SH/NW', { rot: UP, color: '#1e8a3a' }),
  { type: 'text', x: 142, y: 899, rotation: UP, z: 100, silent: true,
    style: { text: '{a|K}{s|+}{a|, ppb}', align: 'center', verticalAlign: 'middle',
      rich: { a: { fontSize: 23, fontFamily: FONT, fill: '#1e8a3a' },
              s: { fontSize: 14, fontFamily: FONT, fill: '#1e8a3a', verticalAlign: 'top', lineHeight: 26 } } } },
  txt(1200, 1061, 'Wanxiang Cave,', { rot: UP }),
  { type: 'text', x: 1233, y: 1062, rotation: UP, z: 100, silent: true,
    style: { text: '{a|δ}{s|18}{a|O, ‰}', align: 'center', verticalAlign: 'middle',
      rich: { a: { fontSize: 23, fontFamily: FONT, fill: '#111' },
              s: { fontSize: 14, fontFamily: FONT, fill: '#111', verticalAlign: 'top', lineHeight: 26 } } } },
  txt(106.5, 1157, 'Temperature', { rot: UP, size: 24 }),
  txt(141.5, 1157, 'stack', { rot: UP, size: 24 }),
  txt(40, 1424, 'FIGURE 3', { align: 'left', size: 14, weight: 'bold', color: '#6a6a6a', sx: 1.3 })
];
panelTags.forEach(([t, y]) => graphic.push(txt(1081, y, t, { weight: 'bold', size: 20 })));
captionLines.forEach((segs, i) => {
  graphic.push({
    type: 'text', x: 40, y: captionY[i], scaleX: 1.092, z: 100, silent: true,
    style: { text: segs.map(([k, s]) => '{' + k + '|' + s + '}').join(''), align: 'left', verticalAlign: 'middle', rich: capRich }
  });
});

chart.setOption({
  animation: false,
  backgroundColor: '#ffffff',
  grid: grids,
  xAxis: xAxes,
  yAxis: yAxes,
  series,
  graphic
});
</script>
</body>
</html>
